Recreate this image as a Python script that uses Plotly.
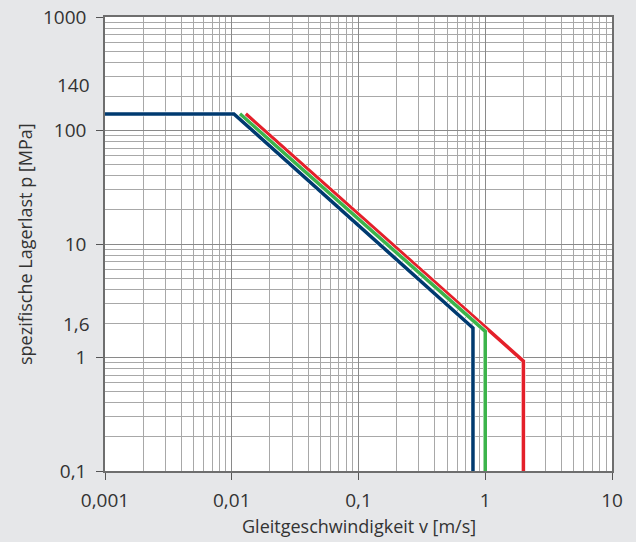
import math
import plotly.graph_objects as go

# Data
blue_v = [0.001, 0.0104, 0.8, 0.8]
blue_p = [140, 140, 1.82, 0.1]
green_v = [0.0116, 1.0, 1.0]
green_p = [140, 1.7, 0.1]
red_v = [0.0129, 2.0, 2.0]
red_p = [140, 0.93, 0.1]

x_tickvals = [0.001, 0.01, 0.1, 1, 10]
x_ticktext = ["0,001", "0,01", "0,1", "1", "10"]
y_tickvals = [0.1, 1, 10, 100, 1000]
y_ticktext = ["0,1", "1", "10", "100", "1000"]
extra_labels = [("140", 254), ("1,6", 1.97)]

BLUE = "#003a70"
GREEN = "#3cb44b"
RED = "#e4202a"
FONT = "Open Sans"
TXT = "#333333"
BG = "#e6e7e9"

def minor_vals(lo, hi):
    out = []
    for e in range(lo, hi):
        for k in range(2, 10):
            out.append(k * 10 ** e)
    return out

fig = go.Figure()
for v, p, c in [(red_v, red_p, RED), (green_v, green_p, GREEN), (blue_v, blue_p, BLUE)]:
    fig.add_trace(go.Scatter(x=v, y=p, mode="lines", line=dict(color="white", width=4.6),
                             hoverinfo="skip", showlegend=False))
    fig.add_trace(go.Scatter(x=v, y=p, mode="lines", line=dict(color=c, width=3.5),
                             showlegend=False))

axis_common = dict(
    type="log",
    tickmode="array",
    automargin=False,
    showgrid=True,
    gridcolor="#8a8a8a",
    gridwidth=1,
    showline=True,
    linecolor="#6e6e6e",
    linewidth=1.5,
    mirror=True,
    ticks="outside",
    ticklen=7,
    tickcolor="#555555",
    tickfont=dict(family=FONT, size=19, color=TXT),
    zeroline=False,
)

fig.update_xaxes(
    **axis_common,
    range=[-3, 1],
    tickvals=x_tickvals,
    ticktext=x_ticktext,
    ticklabelstandoff=4,
    minor=dict(tickmode="array", tickvals=minor_vals(-3, 1), showgrid=True,
               gridcolor="#a8a8a8", gridwidth=1, ticks=""),
)
fig.update_yaxes(
    **axis_common,
    range=[-1, 3],
    tickvals=y_tickvals,
    ticktext=y_ticktext,
    ticklabelstandoff=6,
    minor=dict(tickmode="array", tickvals=minor_vals(-1, 3), showgrid=True,
               gridcolor="#a8a8a8", gridwidth=1, ticks=""),
)

for txt, val in extra_labels:
    fig.add_annotation(text=txt, xref="paper", x=0, yref="y", y=math.log10(val), xanchor="right",
                       xshift=-13, showarrow=False,
                       font=dict(family=FONT, size=19, color=TXT))

fig.add_annotation(text="Gleitgeschwindigkeit v [m/s]", xref="paper", x=0.5, yref="paper", y=0,
                   yanchor="middle", yshift=-55, showarrow=False,
                   font=dict(family=FONT, size=18, color=TXT))
fig.add_annotation(text="spezifische Lagerlast p [MPa]", xref="paper", x=0, yref="paper", y=0.5,
                   xanchor="center", xshift=-80, textangle=-90, showarrow=False,
                   font=dict(family=FONT, size=18, color=TXT))

fig.update_layout(
    width=636, height=542,
    margin=dict(l=105, r=24, t=17, b=71),
    paper_bgcolor=BG,
    plot_bgcolor="white",
    showlegend=False,
)

fig.write_html(
    "out.html",
    config={"displayModeBar": False},
    post_script="document.body.style.margin='0';document.body.style.background='%s';" % BG,
)
